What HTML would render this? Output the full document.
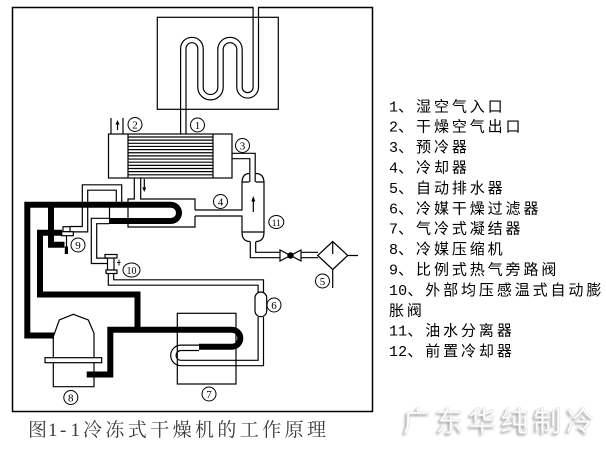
<!DOCTYPE html>
<html><head><meta charset="utf-8"><style>
html,body{margin:0;padding:0;background:#fff;}
svg{display:block;}
.lg{font-family:"Liberation Sans","Noto Sans CJK SC",sans-serif;font-size:15px;letter-spacing:2.9px;fill:#000;}
.lg .d{font-family:"Liberation Mono",monospace;letter-spacing:0.15px;}
.cn{font-family:"Liberation Serif",serif;font-size:11px;fill:#000;}
</style></head><body>
<svg width="606" height="451" viewBox="0 0 606 451" xmlns="http://www.w3.org/2000/svg">
<rect width="606" height="451" fill="#fff"/>
<defs>
<filter id="bl" x="-10%" y="-30%" width="120%" height="160%"><feGaussianBlur stdDeviation="1.2"/></filter>
</defs>
<!-- frame -->
<rect x="12.5" y="7.5" width="360" height="404" fill="none" stroke="#000" stroke-width="1.5"/>

<!-- tubes: black then white -->
<g fill="none" stroke="#000" stroke-width="6.6" stroke-linejoin="miter">
<path d="M183.3,134 V48.6 A8.6,8.6 0 0 1 200.5,48.6 V87.2 A10,10 0 0 0 220.5,87.2 V49.5 A9.5,9.5 0 0 1 239.5,49.5 V87.2 A8.15,8.15 0 0 0 255.8,87.2 V7.5"/>
<path d="M232.5,156 H252.5 V182"/>
<path d="M119,202 V187.5 H85 V229.2 H70"/>
<path d="M109,221 H94 V260.8 H107.5"/>
<path d="M111,273.5 V282.5 H260.8 V292"/>
<path d="M260.8,317 V363 H181 A7.6,7.6 0 0 1 181,347.8 H199"/>
<path d="M253,241.5 V255 H280"/>
<path d="M301,255 H318"/>
</g>
<g fill="none" stroke="#fff" stroke-width="4.2" stroke-linejoin="miter">
<path d="M183.3,134 V48.6 A8.6,8.6 0 0 1 200.5,48.6 V87.2 A10,10 0 0 0 220.5,87.2 V49.5 A9.5,9.5 0 0 1 239.5,49.5 V87.2 A8.15,8.15 0 0 0 255.8,87.2 V6"/>
<path d="M232.5,156 H252.5 V183"/>
<path d="M119,203 V187.5 H85 V229.2 H70"/>
<path d="M110,221 H94 V260.8 H108"/>
<path d="M111,273 V282.5 H260.8 V293"/>
<path d="M260.8,316 V363 H181 A7.6,7.6 0 0 1 181,347.8 H200"/>
<path d="M253,241 V255 H280.5"/>
<path d="M300.5,255 H318"/>
</g>

<g fill="none" stroke="#000" stroke-width="1.2">
<!-- coil box -->
<rect x="157.3" y="17.3" width="121" height="92"/>
<!-- condenser box -->
<rect x="177.3" y="313.3" width="58.7" height="70.7"/>
</g>

<!-- heat exchanger -->
<g stroke="#000" stroke-width="1.2" fill="none">
<rect x="108.5" y="134" width="123.5" height="44" fill="#fff"/>
<line x1="128" y1="134" x2="128" y2="178"/>
<line x1="213" y1="134" x2="213" y2="178"/>
<path d="M128,137H213M128,140.15H213M128,143.3H213M128,146.45H213M128,149.6H213M128,152.75H213M128,155.9H213M128,159.05H213M128,162.2H213M128,165.35H213M128,168.5H213M128,171.65H213M128,174.8H213"/>
<!-- outlet 2 -->
<path d="M111,118V134M123,118V134"/>
<path d="M117.5,123V130"/>
<!-- hx to cooler -->
<path d="M134.3,178 V199 H128 V227 H195 V216"/>
<path d="M140.7,178 V199 H195 V210"/>
<path d="M195,210 H242.5 M195,216 H242.5"/>
<path d="M144.3,179 V189"/>
<path d="M109.5,207.5 V218.5"/>
<!-- separator -->
<path d="M242,182 V210 M242,216 V232 M264,182 V232 M242,232 H264"/>
<path d="M242,182 Q242.5,173.5 249.2,173.5 M242,182 H249.2"/>
<path d="M255.8,173.5 Q263.5,173.5 264,182 M255.8,182 H264"/>
<path d="M242,232 Q242,241.5 250,241.5 M256,241.5 Q264,241.5 264,232"/>
<path d="M253.3,199 V212"/>
<!-- bowtie valve -->
<path d="M280,250 L280,261 L290.5,255.5 Z M301,250 L301,261 L290.5,255.5 Z" fill="#fff"/>
<!-- filter 5 -->
<path d="M317.7,255.5 L332.7,241.5 L347.7,255.5 L332.7,269.5 Z" fill="#fff"/>
<path d="M332.7,241.5 V254 M332.7,269.5 V288 M347.7,255.5 H358"/>
<!-- filter 6 -->
<rect x="255" y="292" width="11.7" height="24.7" rx="5.8" fill="#fff"/>
<!-- valve 10 -->
<rect x="107.5" y="258" width="6.5" height="12" fill="#fff"/>
<rect x="105" y="254.5" width="12" height="3.5" fill="#fff"/>
<rect x="106" y="270" width="11" height="3.5" fill="#fff"/>
<path d="M117,262.5 H120.5 M119,259.5 V265.5" stroke-width="0.9"/>
<!-- valve 9 -->
<rect x="63" y="226.7" width="7" height="5" fill="#fff"/>
<rect x="61.7" y="231.7" width="11.6" height="4" fill="#fff"/>
<path d="M66.5,235.7 V248"/>
</g>
<circle cx="290.5" cy="255.5" r="3.2" fill="#000"/>
<path d="M117.5,120 L115.5,124.5 L119.5,124.5 Z M144.3,192 L142.3,187.5 L146.3,187.5 Z M253.3,196 L251.3,201.5 L255.3,201.5 Z" fill="#000"/>
<rect x="64.8" y="246.5" width="3.2" height="7.5" fill="#000"/>

<!-- compressor -->
<g stroke="#000" stroke-width="1.2" fill="#fff">
<path d="M53.3,386.7 V336.7 L59.3,320 L73.3,314.3 L88.3,320 L94,333.3 V386.7 Z"/>
<rect x="45" y="357.7" width="56.7" height="5"/>
</g>

<!-- thick refrigerant lines -->
<g fill="none" stroke="#000" stroke-width="6" stroke-linejoin="miter">
<path d="M54,335.5 H27.3 V204.8 H170.9 A8.1,8.1 0 0 1 170.9,221 H109"/>
<path d="M51,207 V244.7 H64.5"/>
<path d="M62,232.8 H40 V294.5 H137.5 V332"/>
<path d="M86.7,374.5 H110.3 V329.7 H231.8 A8.5,8.5 0 0 1 231.8,346.7 H199"/>
</g>

<!-- circled labels -->
<g fill="#fff" stroke="#000" stroke-width="1">
<circle cx="197.5" cy="125" r="7"/>
<circle cx="135" cy="124.5" r="7"/>
<circle cx="242.5" cy="145.5" r="7"/>
<circle cx="220.5" cy="201.5" r="7"/>
<circle cx="322.5" cy="281" r="7"/>
<circle cx="274" cy="305" r="7"/>
<circle cx="209" cy="394" r="7"/>
<circle cx="70.8" cy="397.5" r="7"/>
<circle cx="78" cy="245" r="7"/>
<ellipse cx="131.5" cy="270" rx="8.5" ry="7"/>
<ellipse cx="276.3" cy="222" rx="7.5" ry="6.5"/>
</g>
<g class="cn" text-anchor="middle">
<text x="197.5" y="129">1</text>
<text x="135" y="128.5">2</text>
<text x="242.5" y="149.5">3</text>
<text x="220.5" y="205.5">4</text>
<text x="322.5" y="285">5</text>
<text x="274" y="309">6</text>
<text x="209" y="398">7</text>
<text x="70.8" y="401.5">8</text>
<text x="78" y="249">9</text>
<text x="131.5" y="274" font-size="10">10</text>
<text x="276.3" y="225.8" font-size="9.5">11</text>
</g>

<!-- legend -->
<g class="lg">
<text x="389" y="111.3"><tspan class="d">1</tspan>、湿空气入口</text>
<text x="389" y="131.7"><tspan class="d">2</tspan>、干燥空气出口</text>
<text x="389" y="152.1"><tspan class="d">3</tspan>、预冷器</text>
<text x="389" y="172.5"><tspan class="d">4</tspan>、冷却器</text>
<text x="389" y="192.9"><tspan class="d">5</tspan>、自动排水器</text>
<text x="389" y="213.3"><tspan class="d">6</tspan>、冷媒干燥过滤器</text>
<text x="389" y="233.7"><tspan class="d">7</tspan>、气冷式凝结器</text>
<text x="389" y="254.1"><tspan class="d">8</tspan>、冷媒压缩机</text>
<text x="389" y="274.5"><tspan class="d">9</tspan>、比例式热气旁路阀</text>
<text x="389" y="294.9"><tspan class="d">10</tspan>、外部均压感温式自动膨</text>
<text x="389" y="315.3">胀阀</text>
<text x="389" y="335.7"><tspan class="d">11</tspan>、油水分离器</text>
<text x="389" y="356.1"><tspan class="d">12</tspan>、前置冷却器</text>
</g>

<!-- caption -->
<text y="436" font-size="19" fill="#3a3a3a" font-family="'Liberation Serif','Noto Serif CJK SC',serif" x="28 48 60 70.5 83 105.4 127.8 150.2 172.6 195 217.4 239.8 262.2 284.6 307">图1-1冷冻式干燥机的工作原理</text>

<!-- watermark -->
<text x="401" y="433" font-size="28" letter-spacing="4.6" fill="#9a9a9a" filter="url(#bl)" font-family="'Liberation Sans','Noto Sans CJK SC',sans-serif">广东华纯制冷</text>
<text x="403" y="431" font-size="28" letter-spacing="4.6" fill="#fff" stroke="#e0e0e0" stroke-width="0.5" font-family="'Liberation Sans','Noto Sans CJK SC',sans-serif">广东华纯制冷</text>
</svg>
</body></html>
